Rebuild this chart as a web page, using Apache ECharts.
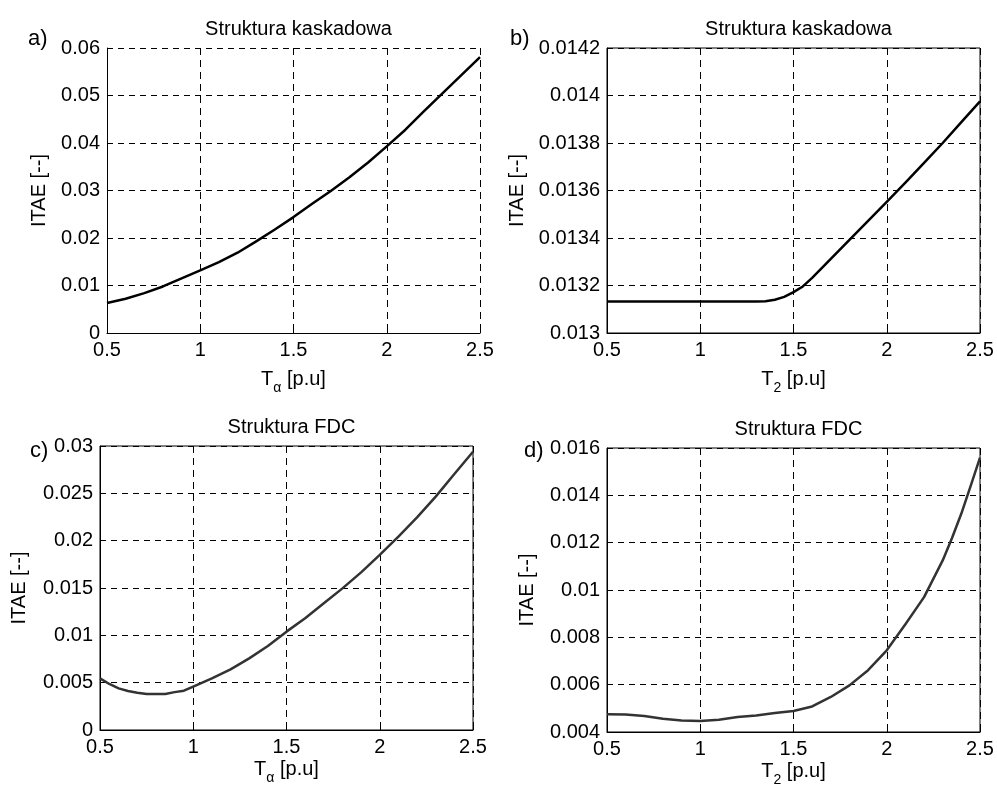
<!DOCTYPE html>
<html>
<head>
<meta charset="utf-8">
<script src="https://cdn.jsdelivr.net/npm/echarts@6/dist/echarts.min.js"></script>
<style>
html, body { margin: 0; padding: 0; background: #fff; }
#main { width: 997px; height: 790px; }
</style>
</head>
<body>
<div id="main"></div>
<script>
// a) kaskadowa, T_alpha
var tA = [0.5, 0.6, 0.7, 0.8, 0.9, 1.0, 1.1, 1.2, 1.3, 1.4, 1.5, 1.6, 1.7, 1.8, 1.9, 2.0, 2.1, 2.2, 2.3, 2.4, 2.5];
var itaeA = [0.0063, 0.0072, 0.0084, 0.0098, 0.0115, 0.0132, 0.0149, 0.0169, 0.0193, 0.0218, 0.0244, 0.0272, 0.0299, 0.0328, 0.0359, 0.0393, 0.0428, 0.0467, 0.0505, 0.0543, 0.0581];

// b) kaskadowa, T_2
var tB = [0.5, 0.6, 0.7, 0.8, 0.9, 1.0, 1.1, 1.2, 1.3, 1.35, 1.4, 1.45, 1.5, 1.55, 1.6, 1.7, 1.8, 1.9, 2.0, 2.1, 2.2, 2.3, 2.4, 2.5];
var itaeB = [0.013133, 0.013133, 0.013133, 0.013133, 0.013133, 0.013133, 0.013133, 0.013133, 0.013133, 0.013134, 0.013140, 0.013152, 0.013172, 0.013196, 0.013232, 0.013312, 0.013392, 0.013472, 0.013552, 0.013633, 0.013716, 0.013800, 0.013888, 0.013975];

// c) FDC, T_alpha
var tC = [0.5, 0.55, 0.6, 0.65, 0.7, 0.75, 0.8, 0.85, 0.9, 0.95, 1.0, 1.1, 1.2, 1.3, 1.4, 1.5, 1.6, 1.7, 1.8, 1.9, 2.0, 2.1, 2.2, 2.3, 2.4, 2.5];
var itaeC = [0.00546, 0.00486, 0.0044, 0.00412, 0.00394, 0.0038, 0.0038, 0.0038, 0.0040, 0.00415, 0.00458, 0.00546, 0.0064, 0.00757, 0.00887, 0.01039, 0.0118, 0.01338, 0.01496, 0.01665, 0.01849, 0.02042, 0.02246, 0.02465, 0.02704, 0.0294];

// d) FDC, T_2
var tD = [0.5, 0.6, 0.7, 0.8, 0.9, 1.0, 1.1, 1.2, 1.3, 1.4, 1.5, 1.6, 1.7, 1.8, 1.9, 2.0, 2.1, 2.2, 2.3, 2.35, 2.4, 2.45, 2.5];
var itaeD = [0.00475, 0.00474, 0.00468, 0.00456, 0.00449, 0.00446, 0.00452, 0.00463, 0.0047, 0.0048, 0.00489, 0.00508, 0.00548, 0.00597, 0.00661, 0.00745, 0.00855, 0.0097, 0.01125, 0.0122, 0.01323, 0.0144, 0.01559];

var titles = ['Struktura kaskadowa', 'Struktura kaskadowa', 'Struktura FDC', 'Struktura FDC'];
var panelLabels = ['a)', 'b)', 'c)', 'd)'];

var FONT = '"Liberation Sans", Arial, Helvetica, sans-serif';

function zip(xs, ys){
	var out = [];
	for(var i = 0; i < xs.length; i++)
		out.push([xs[i], ys[i]]);
	return out;
}

function fmt(v){
	return String(+v.toFixed(6));
}

var grids = [
	{left: 107, top: 48, width: 373, height: 285},
	{left: 607, top: 48, width: 373, height: 285},
	{left: 100, top: 446, width: 373, height: 284},
	{left: 607, top: 448, width: 373, height: 284}
];
// box on for b, c, d
for(var g = 0; g < grids.length; g++){
	grids[g].show = g > 0;
	grids[g].borderColor = '#000';
	grids[g].borderWidth = 1;
	grids[g].backgroundColor = 'transparent';
}

var yRanges = [
	{min: 0, max: 0.06, interval: 0.01},
	{min: 0.013, max: 0.0142, interval: 0.0002},
	{min: 0, max: 0.03, interval: 0.005},
	{min: 0.004, max: 0.016, interval: 0.002}
];
var yNameGaps = [58, 80, 71, 70];
var xNameGaps = [30, 30, 23, 23];
var xNames = [
	'{n|T}{s|α}{n| [p.u]}',
	'{n|T}{s|2}{n| [p.u]}',
	'{n|T}{s|α}{n| [p.u]}',
	'{n|T}{s|2}{n| [p.u]}'
];

var xAxes = [], yAxes = [], series = [], titleList = [];
var datasets = [zip(tA, itaeA), zip(tB, itaeB), zip(tC, itaeC), zip(tD, itaeD)];
var lineColors = ['#000', '#000', '#333', '#333'];

for(var i = 0; i < 4; i++){
	xAxes.push({
		type: 'value',
		gridIndex: i,
		min: 0.5, max: 2.5, interval: 0.5,
		name: xNames[i],
		nameLocation: 'middle',
		nameGap: xNameGaps[i],
		nameTextStyle: {
			fontFamily: FONT, color: '#000',
			rich: {
				n: {fontSize: 20, lineHeight: 32, fontFamily: FONT, color: '#000'},
				s: {fontSize: 14, lineHeight: 12, verticalAlign: 'bottom', fontFamily: FONT, color: '#000'}
			}
		},
		axisLine: {show: true, onZero: false, lineStyle: {color: '#000', width: 1}},
		axisTick: {show: true, inside: true, length: 4, lineStyle: {color: '#000'}},
		axisLabel: {fontSize: 20, fontFamily: FONT, color: '#000', margin: 7, formatter: fmt},
		splitLine: {show: true, lineStyle: {color: '#000', width: 1, type: [7, 5]}}
	});
	yAxes.push({
		type: 'value',
		gridIndex: i,
		min: yRanges[i].min, max: yRanges[i].max, interval: yRanges[i].interval,
		name: 'ITAE [--]',
		nameLocation: 'middle',
		nameRotate: 90,
		nameGap: yNameGaps[i],
		nameTextStyle: {fontSize: 20, fontFamily: FONT, color: '#000'},
		axisLine: {show: true, onZero: false, lineStyle: {color: '#000', width: 1}},
		axisTick: {show: true, inside: true, length: 4, lineStyle: {color: '#000'}},
		axisLabel: {fontSize: 20, fontFamily: FONT, color: '#000', margin: 7, formatter: fmt},
		splitLine: {show: true, lineStyle: {color: '#000', width: 1, type: [6, 5]}}
	});
	series.push({
		type: 'line',
		xAxisIndex: i,
		yAxisIndex: i,
		data: datasets[i],
		showSymbol: false,
		smooth: false,
		lineStyle: {color: lineColors[i], width: 2.5, join: 'round'},
		animation: false
	});
	titleList.push({
		text: titles[i],
		left: grids[i].left + grids[i].width / 2,
		top: grids[i].top - 35,
		textAlign: 'center',
		textStyle: {fontSize: 20, fontWeight: 'normal', fontFamily: FONT, color: '#000', lineHeight: 22}
	});
}

var labelPos = [[28, 28], [510, 28], [30, 440], [524, 440]];
var graphics = [];
for(var k = 0; k < 4; k++){
	graphics.push({
		type: 'text',
		left: labelPos[k][0],
		top: labelPos[k][1],
		style: {text: panelLabels[k], font: '22px ' + FONT, fill: '#000'}
	});
}

var chart = echarts.init(document.getElementById('main'), null, {renderer: 'canvas'});
chart.setOption({
	backgroundColor: '#fff',
	animation: false,
	title: titleList,
	grid: grids,
	xAxis: xAxes,
	yAxis: yAxes,
	series: series,
	graphic: graphics
});
</script>
</body>
</html>
